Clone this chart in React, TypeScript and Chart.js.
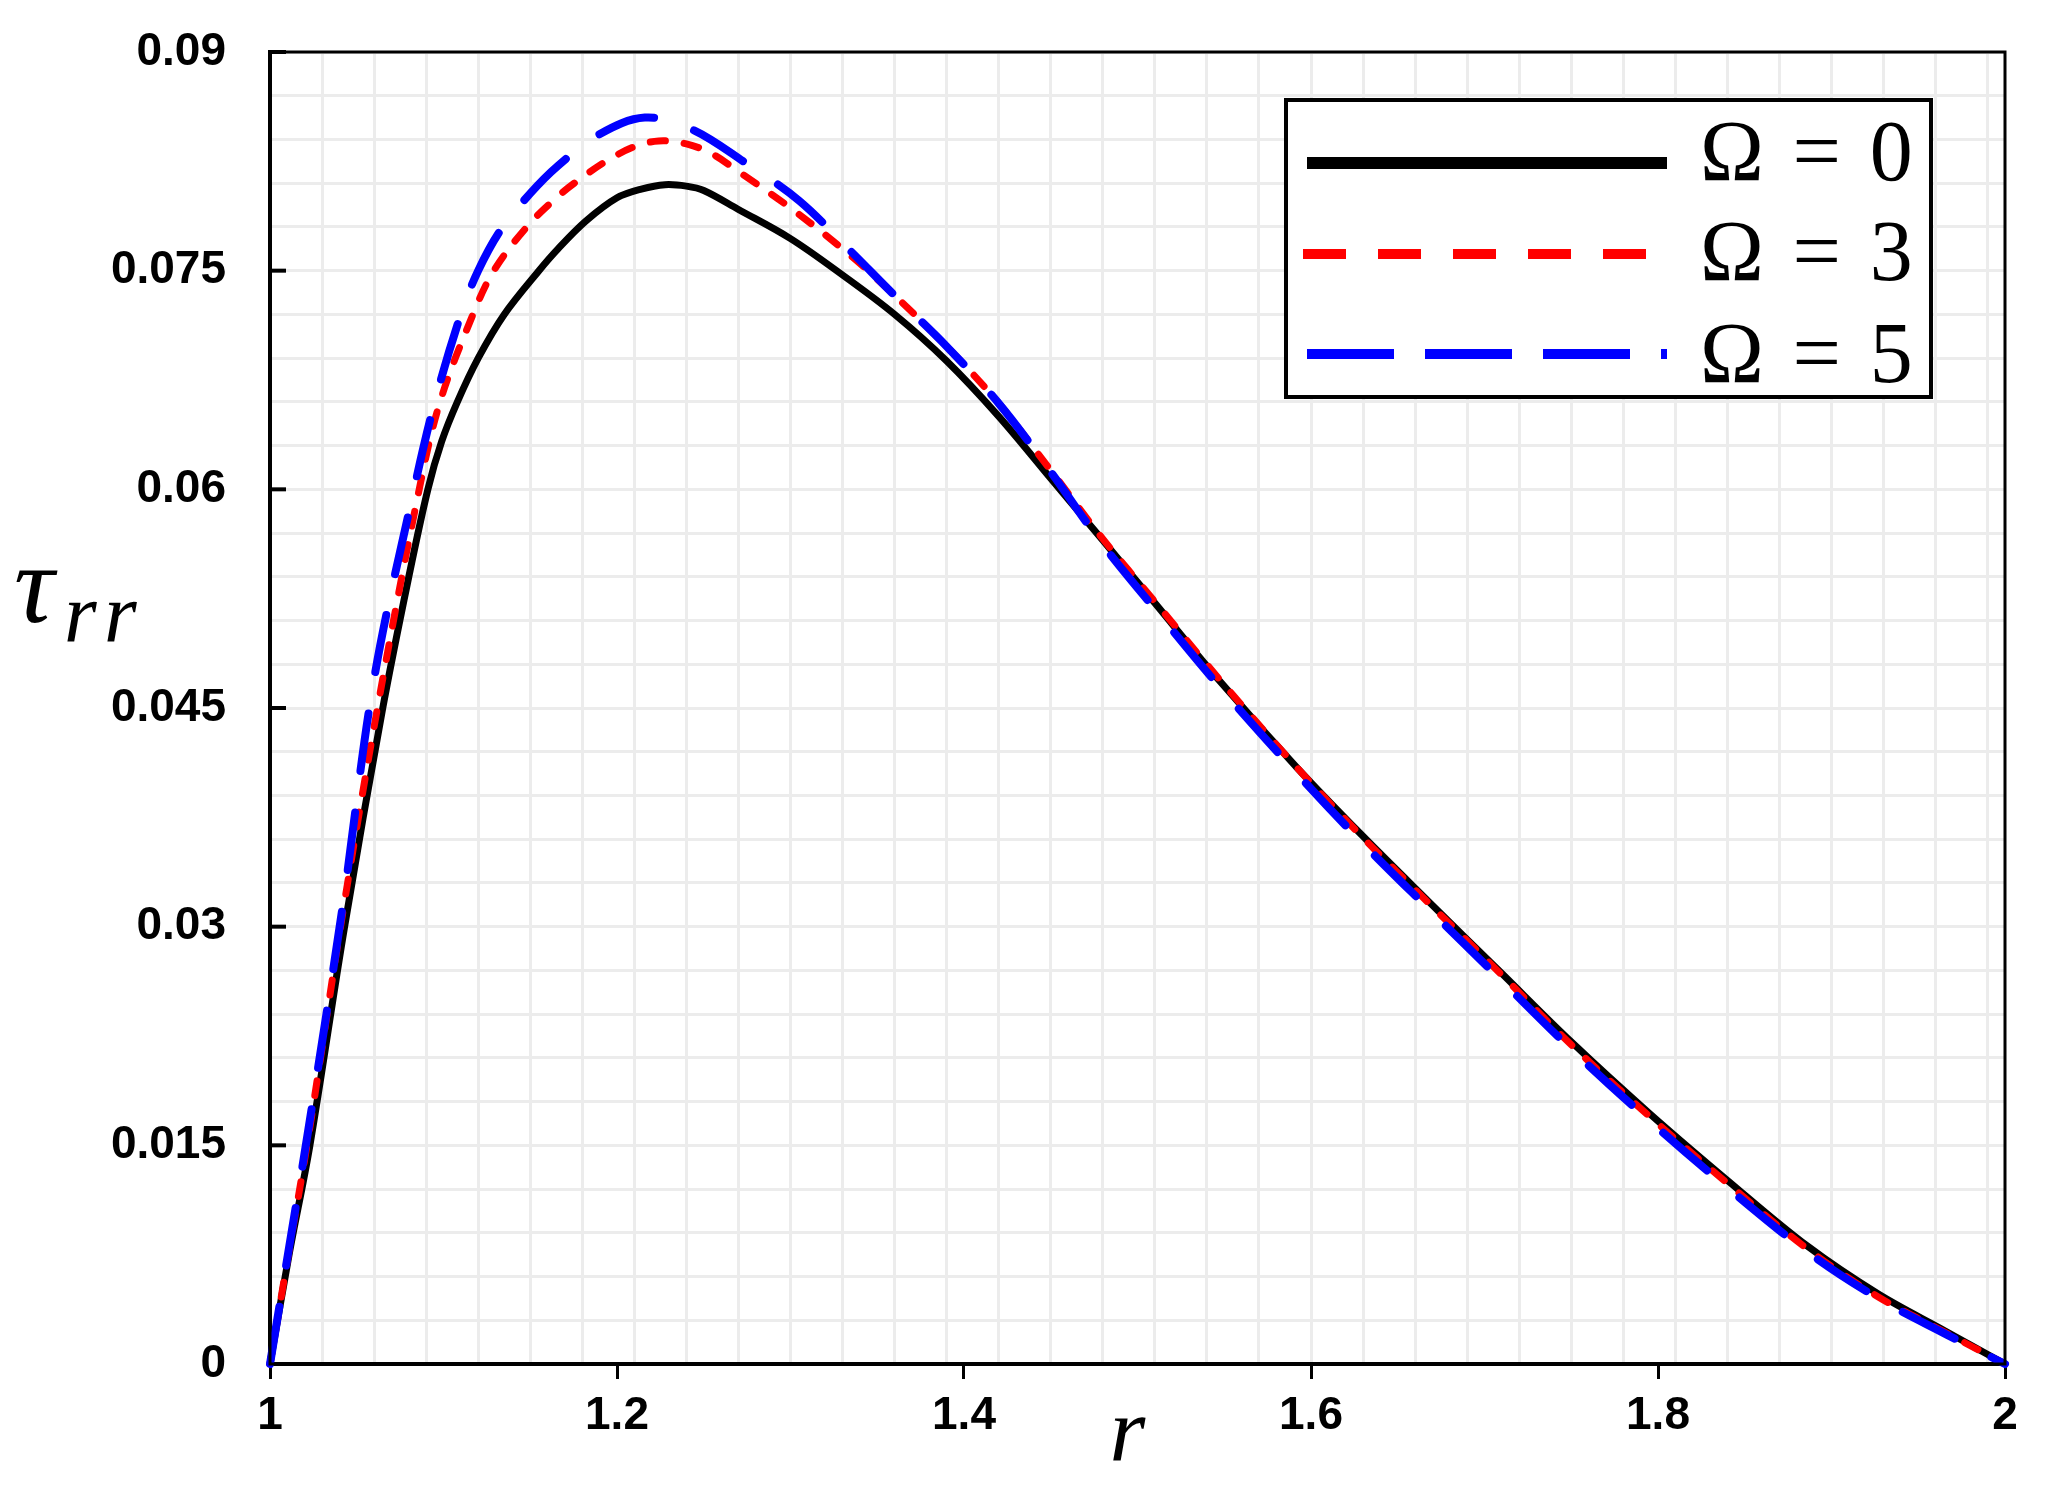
import React, { useEffect, useRef } from "react";
import { Chart, registerables } from "chart.js";

Chart.register(...registerables);

// ---- Data ----
const rOmega0 = [1.0, 1.011, 1.023, 1.043, 1.065, 1.08, 1.091, 1.099, 1.108, 1.12, 1.135, 1.155, 1.166, 1.182, 1.2, 1.214, 1.2277, 1.24, 1.25, 1.27, 1.3, 1.33, 1.36, 1.39, 1.42, 1.451, 1.48, 1.51, 1.547, 1.592, 1.63, 1.668, 1.709, 1.75, 1.795, 1.84, 1.886, 1.927, 1.965, 2.0];
const tauOmega0 = [0, 0.0075, 0.015, 0.03, 0.045, 0.054, 0.06, 0.0633, 0.066, 0.069, 0.072, 0.075, 0.0765, 0.0784, 0.08, 0.0806, 0.0809, 0.0808, 0.0805, 0.0792, 0.0772, 0.0747, 0.072, 0.0688, 0.065, 0.0606, 0.0565, 0.0522, 0.0469, 0.0409, 0.0362, 0.0317, 0.0269, 0.0221, 0.0172, 0.0126, 0.0081, 0.0048, 0.0023, 0];

const rOmega3 = [1.0, 1.011, 1.022, 1.042, 1.063, 1.086, 1.098, 1.117, 1.129, 1.148, 1.166, 1.18, 1.195, 1.21, 1.224, 1.24, 1.255, 1.27, 1.3, 1.335, 1.36, 1.39, 1.42, 1.45, 1.48, 1.51, 1.547, 1.592, 1.63, 1.668, 1.709, 1.75, 1.795, 1.84, 1.886, 1.927, 1.965, 2.0];
const tauOmega3 = [0, 0.0078, 0.0155, 0.031, 0.0457, 0.06, 0.066, 0.072, 0.075, 0.078, 0.0801, 0.0814, 0.0826, 0.0835, 0.0839, 0.0837, 0.083, 0.0818, 0.0793, 0.076, 0.0733, 0.0698, 0.0659, 0.0613, 0.0566, 0.0523, 0.047, 0.0409, 0.0361, 0.0316, 0.0268, 0.0219, 0.017, 0.0124, 0.0079, 0.0046, 0.0022, 0];

const rOmega5 = [1.0, 1.011, 1.022, 1.042, 1.06, 1.083, 1.095, 1.11, 1.12, 1.133, 1.15, 1.166, 1.189, 1.216, 1.243, 1.274, 1.305, 1.335, 1.36, 1.39, 1.42, 1.45, 1.48, 1.51, 1.547, 1.592, 1.63, 1.668, 1.709, 1.75, 1.795, 1.84, 1.886, 1.927, 1.965, 2.0];
const tauOmega5 = [0, 0.008, 0.016, 0.0315, 0.047, 0.06, 0.066, 0.072, 0.075, 0.0778, 0.0803, 0.0822, 0.0843, 0.0855, 0.0847, 0.0824, 0.0798, 0.0763, 0.0733, 0.0698, 0.0659, 0.0612, 0.0562, 0.0518, 0.0465, 0.0405, 0.0357, 0.0312, 0.0264, 0.0216, 0.0167, 0.0121, 0.0077, 0.0045, 0.0021, 0];

const seriesLabels = ["Ω = 0", "Ω = 3", "Ω = 5"];

const xTickValues = [1, 1.2, 1.4, 1.6, 1.8, 2];
const xTickLabels = ["1", "1.2", "1.4", "1.6", "1.8", "2"];
const yTickValues = [0, 0.015, 0.03, 0.045, 0.06, 0.075, 0.09];
const yTickLabels = ["0", "0.015", "0.03", "0.045", "0.06", "0.075", "0.09"];

const xMin = 1, xMax = 2, yMin = 0, yMax = 0.09;
const xGridStep = 0.03;
const yGridStep = 0.003;

const toPoints = (xs: number[], ys: number[]) => xs.map((x, i) => ({ x, y: ys[i] }));

const legendStyles = [
  { width: 12, dash: [] as number[] },
  { width: 10, dash: [43, 32] },
  { width: 10, dash: [87, 31] },
];

const decorPlugin = {
  id: "decor",
  afterDraw(chart: any) {
    const { ctx, chartArea: a, scales } = chart;
    ctx.save();
    // frame
    ctx.strokeStyle = "#000";
    ctx.lineWidth = 3;
    ctx.strokeRect(a.left, a.top, a.right - a.left, a.bottom - a.top);
    // inward y ticks
    ctx.lineWidth = 4;
    yTickValues.forEach((v) => {
      if (v === yMin) return;
      const y = scales.y.getPixelForValue(v);
      ctx.beginPath();
      ctx.moveTo(a.left, y);
      ctx.lineTo(a.left + 16, y);
      ctx.stroke();
    });

    // legend
    const x0 = a.right - 719;
    const y0 = a.top + 48;
    const w = 645, h = 297;
    ctx.fillStyle = "#fff";
    ctx.fillRect(x0, y0, w, h);
    ctx.lineWidth = 4;
    ctx.strokeStyle = "#000";
    ctx.strokeRect(x0, y0, w, h);
    const rowLineY = [63, 154, 254];
    const rowTextY = [80, 180, 282];
    chart.data.datasets.forEach((ds: any, i: number) => {
      const st = legendStyles[i];
      ctx.save();
      ctx.strokeStyle = ds.borderColor;
      ctx.lineWidth = st.width;
      ctx.lineCap = "butt";
      ctx.setLineDash(st.dash);
      ctx.beginPath();
      const sx = i === 1 ? x0 + 17 : x0 + 21;
      ctx.moveTo(sx, y0 + rowLineY[i]);
      ctx.lineTo(x0 + 381, y0 + rowLineY[i]);
      ctx.stroke();
      ctx.restore();
      ctx.fillStyle = "#000";
      ctx.font = '86px "Liberation Serif", serif';
      ctx.textAlign = "left";
      ctx.textBaseline = "alphabetic";
      ctx.fillText(String(ds.label).replace(/ /g, "\u2004"), x0 + 414, y0 + rowTextY[i]);
    });

    // y axis title  τ_rr
    ctx.fillStyle = "#000";
    ctx.textAlign = "left";
    ctx.textBaseline = "alphabetic";
    ctx.font = 'italic 112px "Liberation Serif", serif';
    ctx.fillText("τ", 14, a.top + 570);
    ctx.font = 'italic 84px "Liberation Serif", serif';
    ctx.fillText("r", 64, a.top + 590);
    ctx.fillText("r", 104, a.top + 590);

    // x axis title r
    ctx.font = 'italic 92px "Liberation Serif", serif';
    ctx.textAlign = "center";
    ctx.fillText("r", (a.left + a.right) / 2 - 10, a.bottom + 96);
    ctx.restore();
  },
};

export default function App() {
  const canvasRef = useRef<HTMLCanvasElement | null>(null);

  useEffect(() => {
    document.body.style.margin = "0";
    const canvas = canvasRef.current;
    if (!canvas) return;
    const tickFont = { family: '"Liberation Sans", Arial, sans-serif', size: 46, weight: "bold" as const };

    const chart = new Chart(canvas, {
      type: "line",
      data: {
        datasets: [
          {
            label: seriesLabels[0],
            data: toPoints(rOmega0, tauOmega0),
            borderColor: "#000000",
            borderWidth: 7,
            borderDash: [],
            order: 2,
          },
          {
            label: seriesLabels[1],
            data: toPoints(rOmega3, tauOmega3),
            borderColor: "#ff0000",
            borderWidth: 7,
            borderDash: [15, 19],
            borderCapStyle: "round",
            order: 1,
          },
          {
            label: seriesLabels[2],
            data: toPoints(rOmega5, tauOmega5),
            borderColor: "#0000ff",
            borderWidth: 8,
            borderDash: [58, 42],
            borderCapStyle: "round",
            order: 0,
          },
        ].map((d) => ({
          ...d,
          pointRadius: 0,
          pointHoverRadius: 0,
          fill: false,
          tension: 0.35,
          borderJoinStyle: "round" as const,
          clip: false as any,
        })),
      },
      options: {
        animation: false,
        responsive: false,
        devicePixelRatio: 1,
        events: [],
        layout: { padding: { top: 52, right: 49, left: 0, bottom: 0 } },
        plugins: {
          legend: { display: false },
          tooltip: { enabled: false },
          title: { display: false },
        },
        scales: {
          x: {
            type: "linear",
            position: "bottom",
            min: xMin,
            max: xMax,
            afterBuildTicks: (s: any) => {
              s.ticks = xTickValues.map((v) => ({ value: v }));
            },
            afterFit: (s: any) => {
              s.height = 129;
              s.paddingLeft = 0;
              s.paddingRight = 0;
            },
            ticks: {
              autoSkip: false,
              maxRotation: 0,
              color: "#000",
              font: tickFont,
              padding: 10,
              callback: (v: any) => {
                const i = xTickValues.findIndex((t) => Math.abs(t - v) < 1e-9);
                return i >= 0 ? xTickLabels[i] : "";
              },
            },
            grid: {
              drawOnChartArea: false,
              drawTicks: true,
              tickLength: 15,
              tickColor: "#000",
              tickWidth: 3,
            },
            border: { display: true, color: "#000", width: 4 },
          },
          xg: {
            type: "linear",
            position: "bottom",
            min: xMin,
            max: xMax,
            afterBuildTicks: (s: any) => {
              const arr: any[] = [];
              for (let k = 1; xMin + k * xGridStep < xMax - 1e-9; k++) arr.push({ value: xMin + k * xGridStep });
              s.ticks = arr;
            },
            afterFit: (s: any) => {
              s.height = 0;
              s.paddingLeft = 0;
              s.paddingRight = 0;
            },
            ticks: { display: false },
            grid: { color: "#ececec", lineWidth: 3, drawTicks: false },
            border: { display: false },
          },
          y: {
            type: "linear",
            min: yMin,
            max: yMax,
            afterBuildTicks: (s: any) => {
              const arr: any[] = [];
              const n = Math.round((yMax - yMin) / yGridStep);
              for (let k = 0; k <= n; k++) arr.push({ value: yMin + k * yGridStep });
              s.ticks = arr;
            },
            afterFit: (s: any) => {
              s.width = 270;
              s.paddingTop = 0;
              s.paddingBottom = 0;
            },
            ticks: {
              autoSkip: false,
              color: "#000",
              font: tickFont,
              padding: 44,
              callback: (v: any) => {
                const i = yTickValues.findIndex((t) => Math.abs(t - v) < 1e-9);
                return i >= 0 ? yTickLabels[i] : "";
              },
            },
            grid: { color: "#ececec", lineWidth: 3, drawTicks: false },
            border: { display: true, color: "#000", width: 4 },
          },
        },
      },
      plugins: [decorPlugin],
    } as any);

    return () => chart.destroy();
  }, []);

  return (
    <canvas
      ref={canvasRef}
      width={2054}
      height={1493}
      style={{ display: "block", width: 2054, height: 1493 }}
    />
  );
}
